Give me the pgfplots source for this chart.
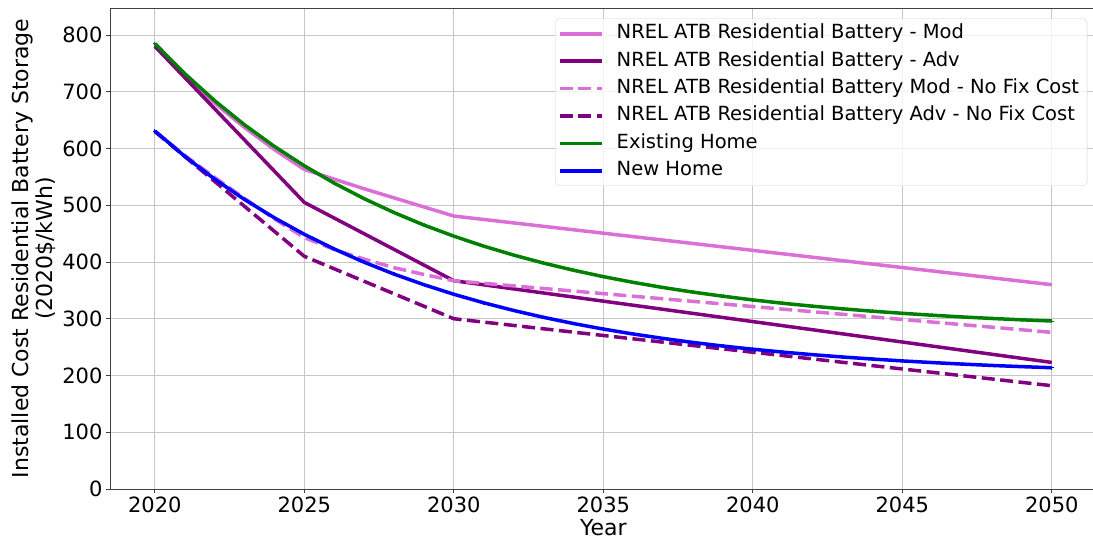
\documentclass[border=0pt]{standalone}
\usepackage{pgfplots}
\pgfplotsset{compat=1.18}
\usepackage{fontspec}
\setmainfont{DejaVu Sans}
\definecolor{orchid}{HTML}{DA70D6}
\definecolor{mpurple}{HTML}{800080}
\definecolor{mgreen}{HTML}{008000}
\definecolor{mblue}{HTML}{0000FF}
\begin{document}
\begin{tikzpicture}
\useasboundingbox (-110pt,-52pt) rectangle (983pt,489pt);
\begin{axis}[
  scale only axis, width=986.7pt, height=481pt,
  xmin=2018.5, xmax=2051.5, ymin=0, ymax=847.6,
  xtick={2020,2025,...,2050}, ytick={0,100,...,800},
  /pgf/number format/1000 sep={},
  /pgf/number format/assume math mode=true,
  ticklabel style={font=\fontsize{21}{25}\selectfont},
  tick align=outside, major tick length=4pt,
  tick style={black!75, line width=0.9pt},
  xtick pos=bottom, ytick pos=left,
  axis line style={black!75, line width=0.9pt},
  grid=major, grid style={black!22, line width=0.9pt},
  xlabel={Year},
  ylabel={Installed Cost Residential Battery Storage\\(2020\$/kWh)},
  every axis x label/.style={at={(axis description cs:0.5,-0.08)}, anchor=center, font=\fontsize{22}{25}\selectfont},
  every axis y label/.style={at={(axis description cs:-0.077,0.5)}, anchor=center, rotate=90, align=center, font=\fontsize{22}{24}\selectfont},
  legend cell align=left,
  legend style={at={(axis description cs:0.451,0.978)}, anchor=north west,
    draw=black!18, rounded corners=4pt, fill=white, fill opacity=0.8, text opacity=1,
    font=\fontsize{19.5}{22}\selectfont, inner xsep=3pt, inner ysep=4pt, row sep=5.4pt,
    nodes={text height=14pt, text depth=4pt, inner ysep=2pt, inner xsep=5pt},
    /tikz/every odd column/.append style={column sep=8pt}},
  legend image code/.code={\draw[mark repeat=2,mark phase=2,#1] plot coordinates {(0pt,0pt) (21pt,0pt) (42pt,0pt)};},
]
\addplot[orchid, line width=3.5pt] coordinates {
(2020,782) (2021,728) (2022,680) (2023,637) (2024,598) (2025,563)
(2026,546) (2027,529) (2028,513) (2029,497) (2030,481) (2050,360)};
\addlegendentry{NREL ATB Residential Battery - Mod}
\addplot[mpurple, line width=3.5pt] coordinates {
(2020,780) (2025,505) (2030,367) (2050,223)};
\addlegendentry{NREL ATB Residential Battery - Adv}
\addplot[orchid, line width=3.5pt, dash pattern=on 13pt off 5.5pt] coordinates {
(2020,630) (2021,588) (2022,549) (2023,512) (2024,476) (2025,443)
(2026,422) (2027,405) (2028,390) (2029,378) (2030,367) (2050,276)};
\addlegendentry{NREL ATB Residential Battery Mod - No Fix Cost}
\addplot[mpurple, line width=3.5pt, dash pattern=on 13pt off 5.5pt] coordinates {
(2020,630) (2025,410) (2030,300) (2050,182)};
\addlegendentry{NREL ATB Residential Battery Adv - No Fix Cost}
\addplot[mgreen, line width=3.5pt, mark=+, mark size=1.8pt, mark options={line width=0.8pt, solid}] coordinates {
(2020,785.0) (2021,731.9) (2022,684.3) (2023,641.7) (2024,603.6) (2025,569.5)
(2026,538.9) (2027,511.6) (2028,487.1) (2029,465.1) (2030,445.5) (2031,427.9)
(2032,412.2) (2033,398.1) (2034,385.5) (2035,374.2) (2036,364.1) (2037,355.0)
(2038,346.9) (2039,339.7) (2040,333.2) (2041,327.3) (2042,322.1) (2043,317.5)
(2044,313.3) (2045,309.6) (2046,306.2) (2047,303.2) (2048,300.5) (2049,298.1)
(2050,296.0)};
\addlegendentry{Existing Home}
\addplot[mblue, line width=3.5pt, mark=+, mark size=1.8pt, mark options={line width=0.8pt, solid}] coordinates {
(2020,631.0) (2021,586.2) (2022,546.1) (2023,510.1) (2024,477.8) (2025,448.8)
(2026,422.9) (2027,399.6) (2028,378.7) (2029,360.0) (2030,343.1) (2031,328.1)
(2032,314.6) (2033,302.5) (2034,291.6) (2035,281.8) (2036,273.1) (2037,265.3)
(2038,258.2) (2039,251.9) (2040,246.3) (2041,241.2) (2042,236.7) (2043,232.6)
(2044,229.0) (2045,225.7) (2046,222.8) (2047,220.1) (2048,217.7) (2049,215.6)
(2050,213.7)};
\addlegendentry{New Home}
\end{axis}
\end{tikzpicture}
\end{document}
